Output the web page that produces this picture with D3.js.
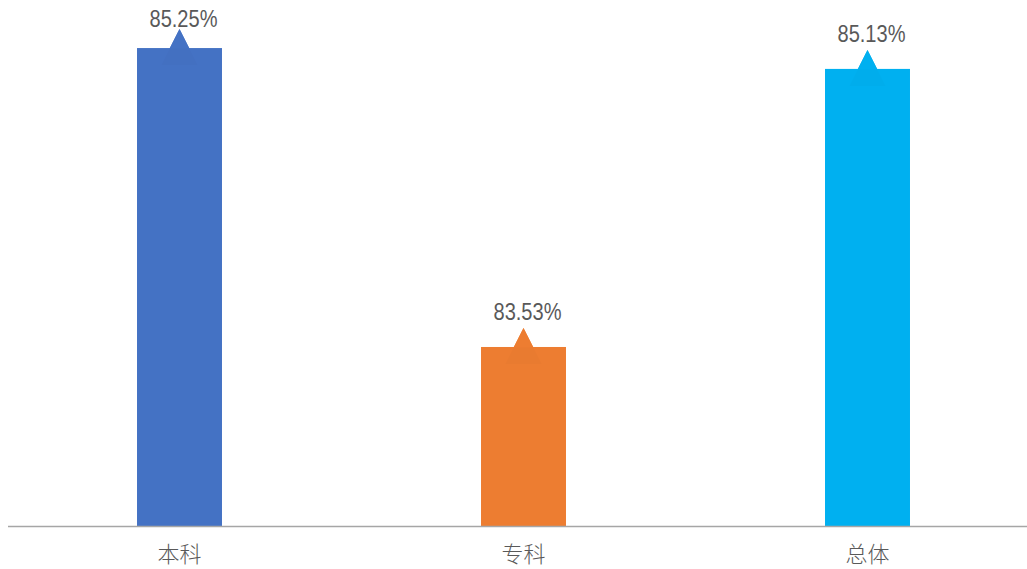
<!DOCTYPE html>
<html><head><meta charset="utf-8">
<script src="https://cdn.jsdelivr.net/npm/d3@7"></script>
<style>body{margin:0;background:#fff}svg{display:block}</style>
</head><body>
<svg id="c" width="1027" height="569"></svg>
<script>
const categories = ["本科", "专科", "总体"];
const values = [85.25, 83.53, 85.13];
const colors = ["#4472C4", "#ED7D31", "#00B0F0"];
const labels = ["85.25%", "83.53%", "85.13%"];

const W = 1027, H = 569;
const svg = d3.select("#c");
const x = d3.scaleBand().domain(categories).range([7.5, 1039.5]).paddingInner(0.753).paddingOuter(0.3765);
const y = d3.scaleLinear().domain([82.5, 85.5]).range([526, 4.6]);

const g = svg.append("g");
// bars
g.selectAll("rect.bar").data(values).join("rect")
  .attr("x", (d, i) => x(categories[i]))
  .attr("y", d => y(d))
  .attr("width", x.bandwidth())
  .attr("height", d => y(82.5) - y(d))
  .attr("fill", (d, i) => colors[i]);

// callout pointer triangles
const tipH = 19, depth = 36;
g.selectAll("path.tri").data(values).join("path")
  .attr("d", (d, i) => {
    const cx = x(categories[i]) + x.bandwidth() / 2, t = y(d) - tipH;
    return `M${cx},${t}L${cx + depth / 2},${t + depth}L${cx - depth / 2},${t + depth}Z`;
  })
  .attr("fill", (d, i) => d3.color(colors[i]).darker(0.05));
g.selectAll("path.tri2").data(values).join("path")
  .attr("d", (d, i) => {
    const cx = x(categories[i]) + x.bandwidth() / 2, t = y(d) - tipH;
    return `M${cx},${t}L${cx + tipH / 2 + 0.5},${y(d) + 0.5}L${cx - tipH / 2 - 0.5},${y(d) + 0.5}Z`;
  })
  .attr("fill", (d, i) => colors[i]);

// value labels
g.selectAll("text.val").data(values).join("text")
  .attr("x", (d, i) => x(categories[i]) + x.bandwidth() / 2 + 4)
  .attr("y", d => Math.max(y(d) - 27, 27))
  .attr("text-anchor", "middle")
  .attr("font-family", "'Liberation Sans', Arial, sans-serif")
  .attr("font-size", 24)
  .attr("textLength", 68)
  .attr("lengthAdjust", "spacingAndGlyphs")
  .attr("fill", "#595959")
  .text((d, i) => labels[i]);

// x axis
const ax = svg.append("g").attr("transform", `translate(0,${y(82.5)})`)
  .call(d3.axisBottom(x).tickSize(0).tickPadding(20));
ax.select(".domain").attr("d", `M8,0.5H1027`).attr("stroke", "#A6A6A6").attr("stroke-width", 1.3);
ax.selectAll("text")
  .attr("font-family", "'Noto Sans CJK SC', sans-serif")
  .attr("font-size", 22)
  .attr("font-weight", 300)
  .attr("fill", "#595959");
</script>
</body></html>
